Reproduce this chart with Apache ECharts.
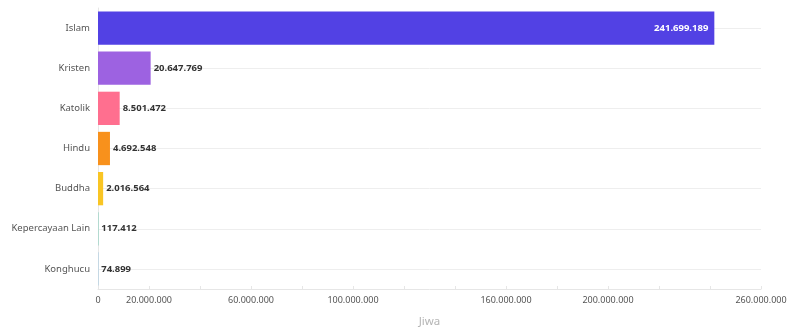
<!DOCTYPE html>
<html>
<head>
<meta charset="UTF-8" />
<title></title>
<script type="text/javascript" src="https://cdn.jsdelivr.net/npm/echarts@6/dist/echarts.min.js"></script>
<style>
  html, body { margin: 0; padding: 0; background: #fff; }
  #chart { width: 787px; height: 329px; }
</style>
</head>
<body>
<div id="chart"></div>
<script>
// data
var agama = ['Islam', 'Kristen', 'Katolik', 'Hindu', 'Buddha', 'Kepercayaan Lain', 'Konghucu'];
var jiwa = [241699189, 20647769, 8501472, 4692548, 2016564, 117412, 74899];
var warna = ['#5241e4', '#9d62e1', '#ff6f8f', '#f8911c', '#f9c524', '#3fbf9f', '#3a9de0'];
var labelTicks = [0, 20000000, 60000000, 100000000, 160000000, 200000000, 260000000];

function titik(n) {
  return String(n).replace(/\B(?=(\d{3})+(?!\d))/g, '.');
}

var myChart = echarts.init(document.getElementById('chart'));
var barData = [];
for (var i = 0; i < jiwa.length; i++) {
  var item = { value: jiwa[i], itemStyle: { color: warna[i] } };
  if (i == 0) {
    // biggest bar: label inside, white
    item.label = { position: 'insideRight', color: '#fff', distance: 6 };
  }
  barData.push(item);
}

myChart.setOption({
  animation: false,
  grid: { left: 98, right: 26, top: 8, bottom: 40, outerBoundsMode: 'none', containLabel: false },
  xAxis: {
    type: 'value',
    min: 0,
    max: 260000000,
    interval: 20000000,
    name: 'Jiwa',
    nameLocation: 'middle',
    nameGap: 27,
    nameTextStyle: { color: '#b5b5b5', fontSize: 11.5, fontFamily: 'Noto Sans' },
    axisLine: { show: true, lineStyle: { color: '#e6e6e6' } },
    axisTick: { show: true, inside: true, length: 3, lineStyle: { color: '#e6e6e6' } },
    splitLine: { show: false },
    axisLabel: {
      color: '#555', fontSize: 9, fontFamily: 'Noto Sans', margin: 7,
      hideOverlap: false,
      formatter: function (v) {
        return labelTicks.indexOf(v) >= 0 ? titik(v) : '';
      }
    }
  },
  yAxis: {
    type: 'category',
    data: agama,
    inverse: true,
    axisLine: { show: true, lineStyle: { color: '#e6e6e6' } },
    axisTick: { show: false },
    splitLine: { show: false },
    axisLabel: { color: '#555', fontSize: 9.5, fontFamily: 'Noto Sans', margin: 8 }
  },
  series: [{
    type: 'bar',
    data: barData,
    barCategoryGap: '17%',
    label: {
      show: true,
      position: 'right',
      distance: 3,
      color: '#333',
      fontWeight: 'bold',
      fontSize: 9.5,
      fontFamily: 'Noto Sans',
      formatter: function (p) { return titik(p.value); }
    },
    markLine: {
      silent: true,
      symbol: 'none',
      label: { show: false },
      lineStyle: { color: '#eeeeee', type: 'solid', width: 1 },
      z: 0,
      data: agama.map(function (a) { return [{ coord: [0, a] }, { coord: [260000000, a] }]; })
    }
  }]
});
</script>
</body>
</html>
